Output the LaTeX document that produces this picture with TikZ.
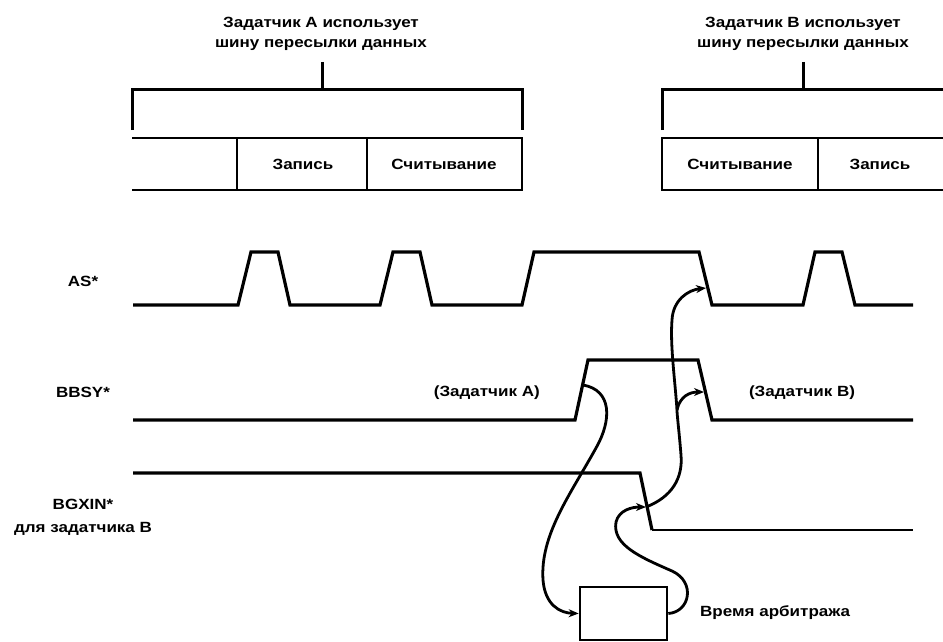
\documentclass[tikz,border=0pt]{standalone}
\usepackage{fontspec}
\setmainfont{Liberation Sans}[FakeStretch=1.15]
\usetikzlibrary{arrows.meta}
\begin{document}
\begin{tikzpicture}[x=1pt,y=-1pt,
  lbl/.style={font=\bfseries\fontsize{14.8}{20}\selectfont, inner sep=0pt},
  sig/.style={line width=3.2pt, line join=miter},
  brk/.style={line width=3pt},
  cell/.style={line width=2.7pt},
  link/.style={line width=2.8pt, -{Stealth[length=10pt,width=8pt]}},
  plain/.style={line width=2.8pt}]
\useasboundingbox (0,0) rectangle (943,642);

% --- bracket A
\node[lbl, align=center] (titleA) at (321,34) {Задатчик А использует\\шину пересылки данных};
\coordinate (tickAtop) at (322,62);
\coordinate (tickAbot) at (322,90);
\draw[brk] (tickAtop) -- (tickAbot);
\draw[brk] (132,130) -- (132,90) -- (522,90) -- (522,130);
\draw[cell] (132,138) -- (522,138) -- (522,190) -- (132,190);
\draw[cell] (237,138) -- (237,190);
\draw[cell] (367,138) -- (367,190);
\node[lbl] (wrA) at (303,164) {Запись};
\node[lbl] (rdA) at (444,164) {Считывание};

% --- bracket B
\node[lbl, align=center] (titleB) at (803,34) {Задатчик В использует\\шину пересылки данных};
\coordinate (tickBtop) at (803,62);
\coordinate (tickBbot) at (803,90);
\draw[brk] (tickBtop) -- (tickBbot);
\draw[brk] (662,130) -- (662,90) -- (943,90);
\draw[cell] (943,138) -- (662,138) -- (662,190) -- (943,190);
\draw[cell] (818,138) -- (818,190);
\node[lbl] (rdB) at (740,164) {Считывание};
\node[lbl] (wrB) at (880,164) {Запись};

% --- signal labels
\node[lbl] (lAS) at (83,281) {AS*};
\node[lbl] (lBBSY) at (83,392) {BBSY*};
\node[lbl, align=center, font=\bfseries\fontsize{14.8}{23}\selectfont] (lBG) at (83,517) {BGXIN*\\для задатчика В};
\node[lbl, anchor=east] (mA) at (540,393) {(Задатчик А)};
\node[lbl] (mB) at (802,393) {(Задатчик В)};

% --- AS*
\draw[sig] (133,305) -- (238,305) -- (251,252) -- (278,252) -- (290,305)
  -- (380,305) -- (393,252) -- (420,252) -- (432,305)
  -- (522,305) -- (534,252) -- (699,252) -- (712,305)
  -- (803,305) -- (815,252) -- (842,252) -- (855,305) -- (913,305);
% --- BBSY*
\draw[sig] (133,420) -- (575,420) -- (588,360) -- (698,360) -- (712,420) -- (913,420);
% --- BGXIN*
\draw[sig] (133,473) -- (640,473) -- (652,530);
\draw[line width=2.4pt] (652,530) -- (913,530);

% --- arbitration box
\node[draw, line width=2.7pt, minimum width=87, minimum height=53, inner sep=0pt] (arb) at (623.5,613.5) {};
\node[lbl, anchor=west] (arbL) at (700,613) {Время арбитража};

% --- edge points
\coordinate (bbsyRise) at (583,385);
\coordinate (bgFall) at (646,507);
\coordinate (asFall) at (706,288);
\coordinate (bbsyFall) at (704,392);
\coordinate (fork) at (677,410);

% --- causal links
\draw[link] (bbsyRise) .. controls (612,390) and (612,420) .. (596,448)
  .. controls (570,495) and (540,535) .. (543,580)
  .. controls (545,605) and (560,613) .. (arb.west);
\draw[link] (arb.east) .. controls (690,612) and (696,582) .. (672,571)
  .. controls (640,557) and (612,545) .. (616,522)
  .. controls (619,510) and (632,507) .. (bgFall);
\draw[plain] (bgFall) .. controls (672,497) and (683,478) .. (681,455)
  .. controls (679,430) and (677,415) .. (fork);
\draw[link] (fork) .. controls (675,380) and (670,345) .. (672,320)
  .. controls (673,300) and (688,290) .. (asFall);
\draw[link] (fork) .. controls (680,396) and (690,392) .. (bbsyFall);
\end{tikzpicture}
\end{document}
